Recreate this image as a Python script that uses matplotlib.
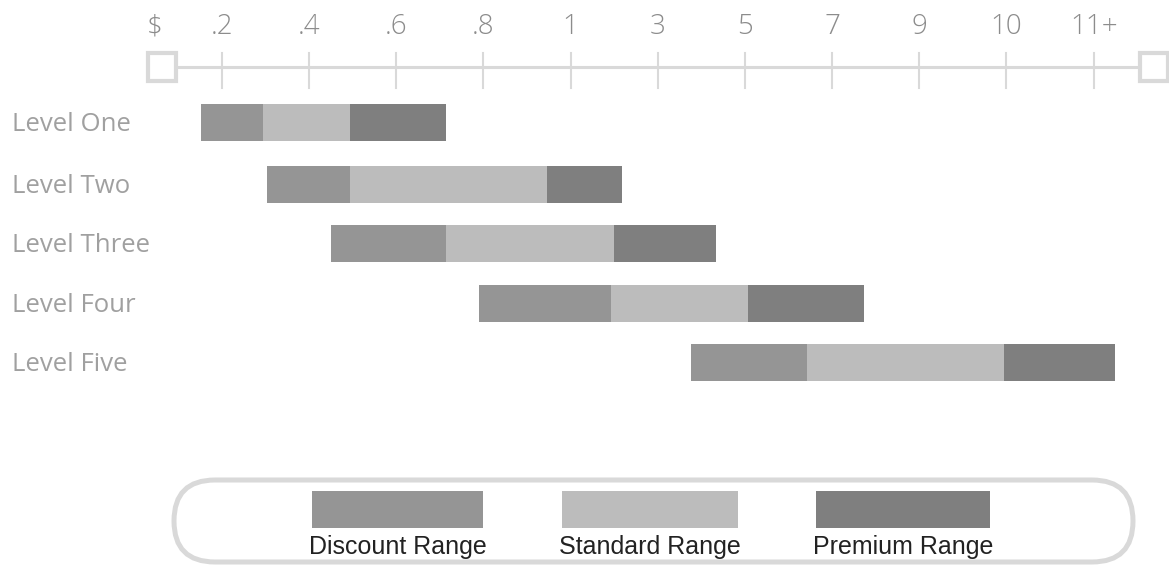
import matplotlib.pyplot as plt
from matplotlib.patches import FancyBboxPatch, Rectangle

# axis labels (one per tick, evenly spaced)
tick_labels = [".2", ".4", ".6", ".8", "1", "3", "5", "7", "9", "10", "11+"]
levels = ["Level One", "Level Two", "Level Three", "Level Four", "Level Five"]

# range edges in tick units (tick i sits at i+1)
discount_start = [0.76, 1.52, 2.25, 3.95, 6.38]
standard_start = [1.47, 2.47, 3.57, 5.47, 7.71]
premium_start = [2.47, 4.73, 5.50, 7.03, 9.97]
premium_end = [3.57, 5.59, 6.67, 8.37, 11.25]

range_names = ["Discount Range", "Standard Range", "Premium Range"]
colors = ["#959595", "#bcbcbc", "#7f7f7f"]

W, H = 1169, 567
x0, step = 134.5, 87.2  # pixel of tick 0 and tick spacing

fig = plt.figure(figsize=(W / 100, H / 100), dpi=100)
ax = fig.add_axes([0, 0, 1, 1])
ax.set_xlim(-x0 / step, (W - x0) / step)
ax.set_ylim(H, 0)
ax.axis("off")

px = fig.add_axes([0, 0, 1, 1], facecolor="none")
px.set_xlim(0, W)
px.set_ylim(H, 0)
px.axis("off")

font = "Open Sans"
grey = "#999999"
line_c = "#d9d9d9"

# top scale
left_box = 0.31
right_box = 11.69
ax.plot([left_box, right_box], [67, 67], color=line_c, lw=2.2, zorder=1)
for i, lab in enumerate(tick_labels):
    ax.plot([i + 1, i + 1], [53, 88], color=line_c, lw=1.5, zorder=1)
    ax.text(i + 1, 27, lab, ha="center", va="center", fontsize=20,
            color="#8c8c8c", family=font, fontweight=300)
ax.text(0.235, 27, "$", ha="center", va="center", fontsize=20,
        color="#8c8c8c", family=font, fontweight=300)
for bx in (left_box, right_box):
    ax.plot(bx, 67, marker="s", markersize=20, markerfacecolor="white",
            markeredgecolor=line_c, markeredgewidth=3, zorder=3)

# bars
y_rows = [122.5, 184.5, 243.5, 303.5, 362.5]
bar_h = 37
for k, y in enumerate(y_rows):
    segs = [(discount_start[k], standard_start[k]),
            (standard_start[k], premium_start[k]),
            (premium_start[k], premium_end[k])]
    for (a, b), c in zip(segs, colors):
        ax.barh(y, b - a, left=a, height=bar_h, color=c, zorder=2)
    ax.text(-1.405, y + 2, levels[k], ha="left", va="center", fontsize=18.5,
            color="#a0a0a0", family=font)

# legend
px.add_patch(FancyBboxPatch((174, 480), 959, 82,
                            boxstyle="round,pad=0,rounding_size=41",
                            facecolor="white", edgecolor=line_c, lw=3.6))
sw_x = [312, 562, 816]
sw_w = [171, 176, 174]
for name, c, sx, sw in zip(range_names, colors, sw_x, sw_w):
    px.add_patch(Rectangle((sx, 491), sw, 37, facecolor=c, edgecolor="none"))
    px.text(sx + sw / 2, 547, name, ha="center", va="center", fontsize=18,
            color="#222222", family="Liberation Sans")

fig.savefig("out.png", dpi=100)
